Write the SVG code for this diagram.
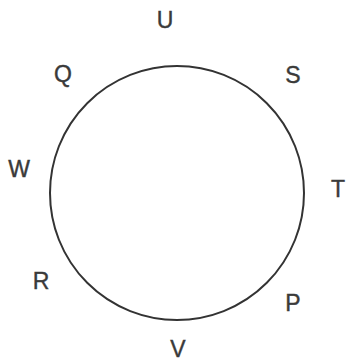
<svg xmlns="http://www.w3.org/2000/svg" width="346" height="362" viewBox="0 0 346 362">
<style>
.lbl{font-family:"Liberation Sans",Arial,sans-serif;font-size:23px;fill:#3a3a3a;stroke:#3a3a3a;stroke-width:0.4;text-anchor:middle}
.c{fill:none;stroke:#333;stroke-width:2}
</style>
<rect width="346" height="362" fill="#fff"/>
<g id="connectors">
<circle class="c" cx="177" cy="193" r="127"/>
</g>
<g id="U"><text class="lbl" x="165" y="28">U</text></g>
<g id="S"><text class="lbl" x="293" y="83">S</text></g>
<g id="T"><text class="lbl" x="338" y="197">T</text></g>
<g id="P"><text class="lbl" x="293" y="311">P</text></g>
<g id="V"><text class="lbl" x="178" y="357">V</text></g>
<g id="R"><text class="lbl" x="41" y="289">R</text></g>
<g id="W"><text class="lbl" x="19" y="177">W</text></g>
<g id="Q"><text class="lbl" x="63" y="82">Q</text></g>
</svg>
